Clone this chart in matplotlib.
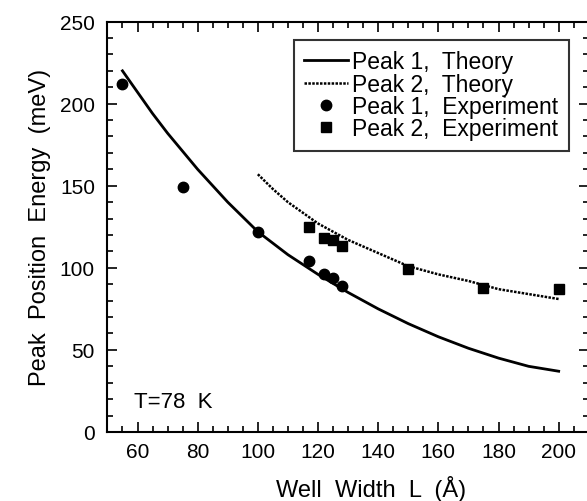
import numpy as np
import matplotlib
matplotlib.use("Agg")
import matplotlib.pyplot as plt
from matplotlib.ticker import MultipleLocator

plt.rcParams['font.family'] = ['Liberation Sans', 'DejaVu Sans']

# theory curves
theory1_L = [55, 60, 65, 70, 75, 80, 85, 90, 95, 100, 110, 120, 130, 140, 150, 160, 170, 180, 190, 200]
theory1_E = [220, 207, 194, 182, 171, 160, 150, 140, 131, 122, 108, 96, 85, 75, 66, 58, 51, 45, 40, 37]
theory2_L = [100, 105, 110, 120, 130, 140, 150, 160, 170, 180, 190, 200]
theory2_E = [157, 148, 140, 127, 117, 109, 101, 96, 92, 87, 84, 81]

# experiment points
exp1_L = [55, 75, 100, 117, 122, 125, 128]
exp1_E = [212, 149, 122, 104, 96, 94, 89]
exp2_L = [117, 122, 125, 128, 150, 175, 200]
exp2_E = [125, 118, 117, 113, 99, 88, 87]

fig = plt.figure(figsize=(5.87, 5.02), dpi=100)
ax = fig.add_axes([0.183, 0.1375, 0.82, 0.8175])

ax.plot(theory1_L, theory1_E, '-', color='black', lw=2.0, label='Peak 1,  Theory')
ax.plot(theory2_L, theory2_E, color='black', lw=1.8, linestyle=(0, (1, 0.55)),
        label='Peak 2,  Theory')
ax.plot(exp1_L, exp1_E, 'o', color='black', ms=7.5, ls='none', label='Peak 1,  Experiment')
ax.plot(exp2_L, exp2_E, 's', color='black', ms=7.5, ls='none', label='Peak 2,  Experiment')

ax.set_xlim(50, 210)
ax.set_ylim(0, 250)
ax.xaxis.set_major_locator(MultipleLocator(20))
ax.xaxis.set_minor_locator(MultipleLocator(5))
ax.yaxis.set_major_locator(MultipleLocator(50))
ax.yaxis.set_minor_locator(MultipleLocator(10))
ax.tick_params(which='both', direction='in', top=True, right=True, width=1.2)
ax.tick_params(which='major', length=7, labelsize=15)
ax.tick_params(axis='y', which='major', pad=9)
ax.tick_params(axis='x', which='major', pad=7)
ax.tick_params(which='minor', length=4)
for s in ax.spines.values():
    s.set_linewidth(1.5)

ax.set_xlabel('Well  Width  L  (Å)', fontsize=17)
ax.xaxis.set_label_coords(0.547, -0.105)
ax.set_ylabel('Peak  Position  Energy  (meV)', fontsize=17)
ax.yaxis.set_label_coords(-0.118, 0.5)
ax.text(59, 15, 'T=78  K', fontsize=16)

leg = ax.legend(loc='upper right', bbox_to_anchor=(0.958, 0.955), fontsize=16.5,
                frameon=True, fancybox=False, edgecolor='black', handlelength=1.9,
                handletextpad=0.2, labelspacing=-0.03, borderpad=0.45,
                borderaxespad=0)
leg.get_frame().set_linewidth(1.5)

fig.savefig('out.png', dpi=100)
